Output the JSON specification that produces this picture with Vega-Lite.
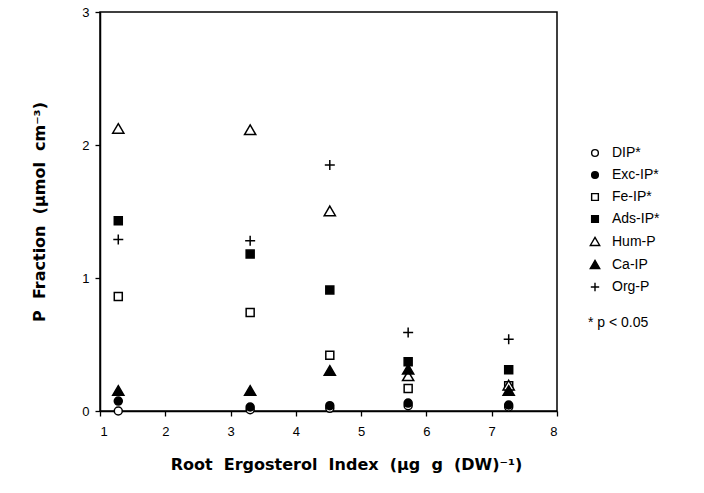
{
  "$schema": "https://vega.github.io/schema/vega-lite/v6.json",
  "width": 457,
  "height": 399,
  "autosize": {"type": "none"},
  "padding": {"left": 100, "top": 12, "right": 147, "bottom": 82},
  "background": "white",
  "config": {
    "font": "Liberation Sans",
    "view": {"stroke": "black", "strokeWidth": 1.5},
    "axis": {"grid": false, "domainColor": "black", "domainWidth": 1.5, "tickColor": "black", "tickWidth": 1.3, "labelColor": "black", "labelFontSize": 13, "titleColor": "black", "titleFont": "DejaVu Sans", "titleFontWeight": "bold", "titleFontSize": 16}
  },
  "data": {
    "values": [
      {"x": 1.28, "y": 0.0, "f": "DIP*"},
      {"x": 1.28, "y": 0.075, "f": "Exc-IP*"},
      {"x": 1.28, "y": 0.86, "f": "Fe-IP*"},
      {"x": 1.28, "y": 1.43, "f": "Ads-IP*"},
      {"x": 1.28, "y": 2.12, "f": "Hum-P"},
      {"x": 1.28, "y": 0.15, "f": "Ca-IP"},
      {"x": 1.28, "y": 1.29, "f": "Org-P"},
      {"x": 3.3, "y": 0.01, "f": "DIP*"},
      {"x": 3.3, "y": 0.03, "f": "Exc-IP*"},
      {"x": 3.3, "y": 0.74, "f": "Fe-IP*"},
      {"x": 3.3, "y": 1.18, "f": "Ads-IP*"},
      {"x": 3.3, "y": 2.11, "f": "Hum-P"},
      {"x": 3.3, "y": 0.15, "f": "Ca-IP"},
      {"x": 3.3, "y": 1.28, "f": "Org-P"},
      {"x": 4.52, "y": 0.02, "f": "DIP*"},
      {"x": 4.52, "y": 0.04, "f": "Exc-IP*"},
      {"x": 4.52, "y": 0.42, "f": "Fe-IP*"},
      {"x": 4.52, "y": 0.91, "f": "Ads-IP*"},
      {"x": 4.52, "y": 1.5, "f": "Hum-P"},
      {"x": 4.52, "y": 0.3, "f": "Ca-IP"},
      {"x": 4.52, "y": 1.85, "f": "Org-P"},
      {"x": 5.72, "y": 0.04, "f": "DIP*"},
      {"x": 5.72, "y": 0.06, "f": "Exc-IP*"},
      {"x": 5.72, "y": 0.17, "f": "Fe-IP*"},
      {"x": 5.72, "y": 0.37, "f": "Ads-IP*"},
      {"x": 5.72, "y": 0.26, "f": "Hum-P"},
      {"x": 5.72, "y": 0.31, "f": "Ca-IP"},
      {"x": 5.72, "y": 0.59, "f": "Org-P"},
      {"x": 7.26, "y": 0.03, "f": "DIP*"},
      {"x": 7.26, "y": 0.045, "f": "Exc-IP*"},
      {"x": 7.26, "y": 0.19, "f": "Fe-IP*"},
      {"x": 7.26, "y": 0.31, "f": "Ads-IP*"},
      {"x": 7.26, "y": 0.19, "f": "Hum-P"},
      {"x": 7.26, "y": 0.15, "f": "Ca-IP"},
      {"x": 7.26, "y": 0.54, "f": "Org-P"}
    ]
  },
  "mark": {"type": "point", "filled": true, "stroke": "black", "strokeWidth": 1.5, "opacity": 1, "size": 64},
  "encoding": {
    "x": {
      "field": "x", "type": "quantitative",
      "scale": {"domain": [1, 8], "nice": false, "zero": false},
      "axis": {
        "values": [1, 1.5, 2, 2.5, 3, 3.5, 4, 4.5, 5, 5.5, 6, 6.5, 7, 7.5, 8],
        "format": "d",
        "labelExpr": "datum.value % 1 ? '' : datum.label",
        "tickSize": {"condition": {"test": "datum.value % 1 !== 0", "value": -4}, "value": 5},
        "labelPadding": 9,
        "title": "Root\u00a0 Ergosterol\u00a0 Index\u00a0 (µg\u00a0 g\u00a0 (DW)⁻¹)",
        "titleX": 246,
        "titlePadding": 18
      }
    },
    "y": {
      "field": "y", "type": "quantitative",
      "scale": {"domain": [0, 3], "nice": false},
      "axis": {
        "values": [0, 0.5, 1, 1.5, 2, 2.5, 3],
        "format": "d",
        "labelExpr": "datum.value % 1 ? '' : datum.label",
        "tickSize": {"condition": {"test": "datum.value % 1 !== 0", "value": -4}, "value": 5},
        "labelPadding": 6,
        "title": "P\u00a0 Fraction\u00a0 (µmol\u00a0 cm⁻³)",
        "titlePadding": 34
      }
    },
    "shape": {
      "field": "f", "type": "nominal",
      "scale": {
        "domain": ["DIP*", "Exc-IP*", "Fe-IP*", "Ads-IP*", "Hum-P", "Ca-IP", "Org-P"],
        "range": ["circle", "circle", "square", "square", "M0,-1.35L1.4,1.05L-1.4,1.05Z", "M0,-1.35L1.4,1.05L-1.4,1.05Z", "M-1.25,0H1.25M0,-1.25V1.25"]
      },
      "legend": {
        "orient": "none", "legendX": 488, "legendY": 134,
        "title": "* p < 0.05", "titleOrient": "bottom", "titleFontWeight": "normal", "titleFontSize": 14, "titleColor": "black", "titlePadding": 22,
        "labelFontSize": 14, "labelColor": "black", "symbolSize": 45, "symbolStrokeWidth": 1.4, "rowPadding": 8, "labelOffset": 10
      }
    },
    "fill": {
      "field": "f", "type": "nominal",
      "scale": {
        "domain": ["DIP*", "Exc-IP*", "Fe-IP*", "Ads-IP*", "Hum-P", "Ca-IP", "Org-P"],
        "range": ["white", "black", "white", "black", "white", "black", "transparent"]
      },
      "legend": {
        "orient": "none", "legendX": 488, "legendY": 134,
        "title": "* p < 0.05", "titleOrient": "bottom", "titleFontWeight": "normal", "titleFontSize": 14, "titleColor": "black", "titlePadding": 22,
        "labelFontSize": 14, "labelColor": "black", "symbolSize": 45, "symbolStrokeWidth": 1.4, "rowPadding": 8, "labelOffset": 10
      }
    }
  }
}
